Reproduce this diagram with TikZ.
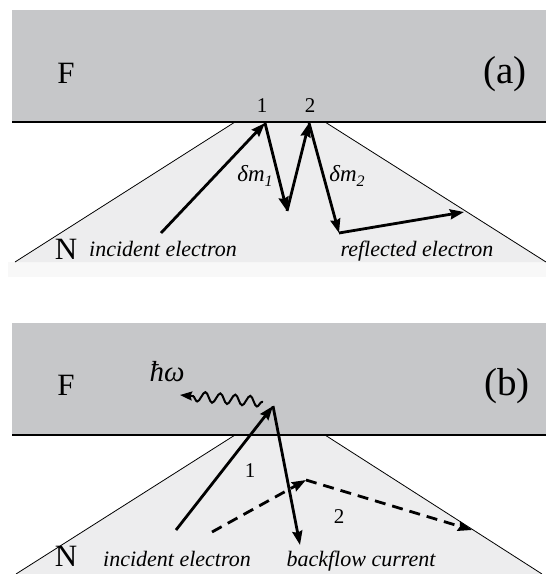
\documentclass[tikz,border=0pt]{standalone}
\usepackage{fontspec}
\setmainfont{Liberation Serif}
\usetikzlibrary{arrows.meta,decorations.pathmorphing}
\definecolor{fgrey}{HTML}{C6C7C9}
\definecolor{ngrey}{HTML}{EDEDEE}
\definecolor{bandgrey}{HTML}{F8F8F8}
\begin{document}
\begin{tikzpicture}[x=1bp,y=-1bp,
  arr/.style={line width=2.8bp,-{Stealth[length=14bp,width=10bp,inset=1.5bp]}},
  dasharr/.style={arr,dash pattern=on 11bp off 7bp},
  edge/.style={line width=0.8bp},
  iface/.style={line width=1.6bp},
  big/.style={inner sep=0pt,font=\fontsize{31bp}{35bp}\selectfont},
  panel/.style={inner sep=0pt,font=\fontsize{39bp}{43bp}\selectfont},
  num/.style={inner sep=0pt,font=\fontsize{21bp}{24bp}\selectfont},
  ital/.style={inner sep=0pt,anchor=base,font=\fontsize{22bp}{26bp}\selectfont\itshape},
  dm/.style={inner sep=0pt,font=\fontsize{23bp}{26bp}\selectfont\itshape},
  hbar/.style={inner sep=0pt,font=\fontsize{29bp}{32bp}\selectfont\itshape}]
\useasboundingbox (0,0) rectangle (546,574);
% ---------- panel (a) ----------
\fill[bandgrey] (8,262) rectangle (546,277);
\fill[ngrey] (235,122) -- (15,262) -- (546,262) -- (325,122) -- cycle;
\draw[edge] (235,122) -- (15,262);
\draw[edge] (325,122) -- (546,262);
\fill[fgrey] (12,10) rectangle (546,122);
\draw[iface] (12,122) -- (546,122);
\node[big] (Fa) at (66,73) {F};
\node[panel] (pa) at (505,74) {(a)};
\node[num] (na1) at (262,106) {1};
\node[num] (na2) at (310,106) {2};
\node[dm] (dm1) at (255,176) {δm\raisebox{-5bp}{\fontsize{16bp}{18bp}\selectfont 1}};
\node[dm] (dm2) at (347,176) {δm\raisebox{-5bp}{\fontsize{16bp}{18bp}\selectfont 2}};
\node[big,anchor=base] (Na) at (66,259) {N};
\node[ital] (inca) at (163,256) {incident electron};
\node[ital] (refa) at (417,256) {reflected electron};
\coordinate (a0) at (161,233);
\coordinate (a1) at (265,123);
\coordinate (a2) at (287,211);
\coordinate (a3) at (309,123);
\coordinate (a4) at (339,233);
\coordinate (a5) at (464,212);
\draw[arr] (a0) -- (a1);
\draw[arr] (a1) -- (a2);
\draw[arr] (a2) -- (a3);
\draw[arr] (a3) -- (a4);
\draw[arr] (a4) -- (a5);
% ---------- panel (b) ----------
\fill[ngrey] (235,435) -- (16,574) -- (542,574) -- (325,435) -- cycle;
\draw[edge] (235,435) -- (16,574);
\draw[edge] (325,435) -- (542,574);
\fill[fgrey] (12,323) rectangle (546,435);
\draw[iface] (12,435) -- (546,435);
\node[big] (Fb) at (66,385) {F};
\node[panel] (pb) at (507,386) {(b)};
\node[hbar] (hw) at (167,372) {ħω};
\node[num] (nb1) at (250,471) {1};
\node[num] (nb2) at (339,517) {2};
\node[big,anchor=base] (Nb) at (66,566) {N};
\node[ital] (incb) at (177,566) {incident electron};
\node[ital] (backb) at (361,566) {backflow current};
\coordinate (w0) at (263,402);
\coordinate (w1) at (180,395);
\draw[line width=2bp,-{Stealth[length=12bp,width=9bp,inset=1.5bp]},
  decorate,decoration={snake,amplitude=5bp,segment length=15bp,pre length=1bp,post length=12bp}] (w0) -- (w1);
\coordinate (b0) at (176,530);
\coordinate (b1) at (273,406);
\coordinate (b2) at (300,545);
\draw[arr] (b0) -- (b1);
\draw[arr] (b1) -- (b2);
\coordinate (d0) at (212,532);
\coordinate (d1) at (306,480);
\coordinate (d2) at (472,530);
\draw[dasharr] (d0) -- (d1);
\draw[dasharr] (d1) -- (d2);
\end{tikzpicture}
\end{document}
